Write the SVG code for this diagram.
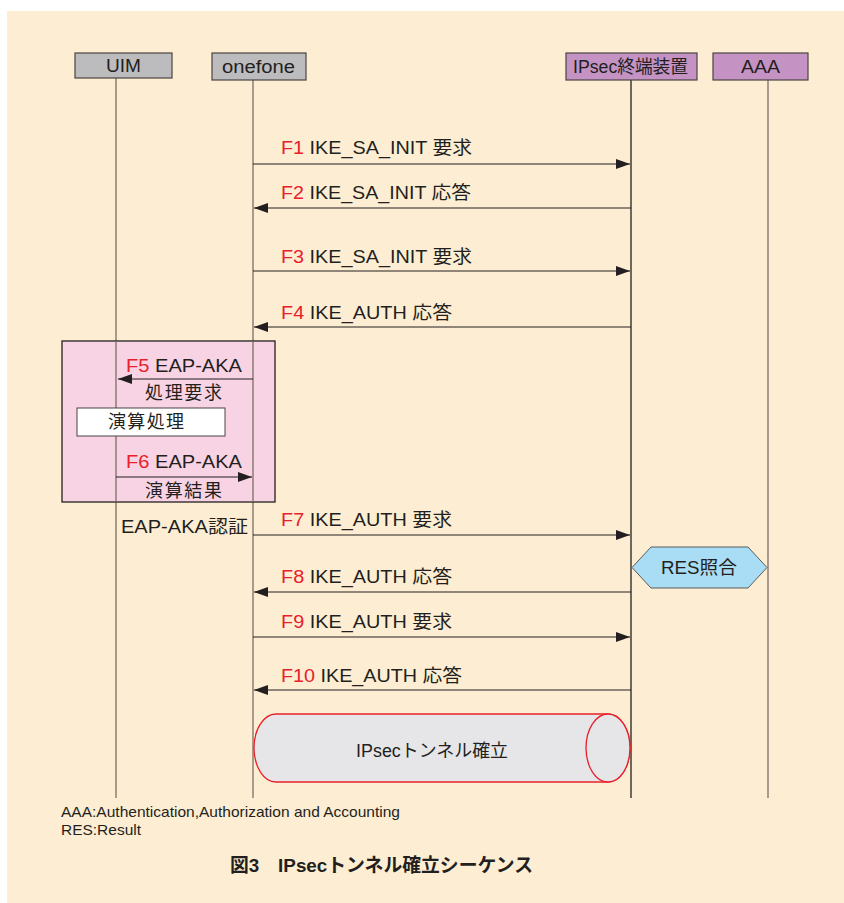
<svg xmlns="http://www.w3.org/2000/svg" width="844" height="903" viewBox="0 0 844 903">
<defs>
<style>
text{font-family:"Liberation Sans","Noto Sans CJK JP",sans-serif;fill:#231f20}
.hd{font-size:18px}
.lb{font-size:18px}
.red{fill:#e8202a}
.life{stroke:#7a6e60;stroke-width:1.3}
.msg{stroke:#231f20;stroke-width:1.2;fill:none}
.ft{font-size:15px}
</style>
<marker id="ah" viewBox="0 0 14 10" refX="14" refY="5" markerWidth="14" markerHeight="10" markerUnits="userSpaceOnUse" orient="auto">
<path d="M0,0 L14,5 L0,10 Z" fill="#231f20"/>
</marker>
</defs>
<rect x="0" y="0" width="844" height="903" fill="#ffffff"/>
<rect x="7" y="11" width="837" height="892" fill="#fdeed3"/>

<g id="lifelines">
<line class="life" x1="116" y1="78" x2="116" y2="798"/>
<line class="life" x1="253" y1="80" x2="253" y2="798"/>
<line x1="631" y1="80" x2="631" y2="798" stroke="#231f20" stroke-width="1.3"/>
<line class="life" x1="768" y1="80" x2="768" y2="798"/>
</g>

<g id="uim">
<rect x="75" y="53" width="97" height="25" fill="#bcbcbf" stroke="#4a4440" stroke-width="1.2"/>
<text class="hd" x="106" y="72" textLength="35" lengthAdjust="spacingAndGlyphs">UIM</text>
</g>
<g id="onefone">
<rect x="212" y="53" width="94" height="27" fill="#bcbcbf" stroke="#4a4440" stroke-width="1.2"/>
<text class="hd" x="222" y="73" textLength="73" lengthAdjust="spacingAndGlyphs">onefone</text>
</g>
<g id="ipsec">
<rect x="566" y="53" width="131" height="27" fill="#c493c4" stroke="#4a4440" stroke-width="1.2"/>
<text class="hd" x="573" y="73" textLength="115" lengthAdjust="spacingAndGlyphs">IPsec終端装置</text>
</g>
<g id="aaa">
<rect x="713" y="53" width="95" height="27" fill="#c493c4" stroke="#4a4440" stroke-width="1.2"/>
<text class="hd" x="741" y="73" textLength="39" lengthAdjust="spacingAndGlyphs">AAA</text>
</g>

<g id="eap-box">
<rect x="62" y="341" width="213" height="161" fill="#f8d3e4" stroke="#231f20" stroke-width="1.3"/>
<line class="life" x1="116" y1="341" x2="116" y2="502"/>
<line class="life" x1="253" y1="341" x2="253" y2="502"/>
</g>
<g id="calc">
<rect x="77" y="408" width="148" height="28" fill="#ffffff" stroke="#4a4440" stroke-width="1"/>
<text class="lb" x="108" y="428" textLength="76" lengthAdjust="spacing">演算処理</text>
</g>

<g id="res">
<polygon points="632,567.5 651,547 748,547 767,567.5 748,588 651,588" fill="#a9ddf5" stroke="#5a5a5a" stroke-width="1"/>
<text class="lb" x="661" y="574" textLength="76" lengthAdjust="spacingAndGlyphs">RES照合</text>
</g>

<g id="tunnel">
<path d="M276,714 L608,714 A22,34 0 0 1 608,782 L276,782 A22,34 0 0 1 276,714 Z" fill="#e6e6e8" stroke="#e8202a" stroke-width="1.3"/>
<ellipse cx="608" cy="748" rx="22" ry="34" fill="#e6e6e8" stroke="#e8202a" stroke-width="1.3"/>
<text x="356" y="757" font-size="18" textLength="152" lengthAdjust="spacingAndGlyphs">IPsecトンネル確立</text>
</g>

<g id="connectors">
<line class="msg" x1="253" y1="164" x2="630" y2="164" marker-end="url(#ah)"/>
<line class="msg" x1="631" y1="208" x2="254" y2="208" marker-end="url(#ah)"/>
<line class="msg" x1="253" y1="271" x2="630" y2="271" marker-end="url(#ah)"/>
<line class="msg" x1="631" y1="327" x2="254" y2="327" marker-end="url(#ah)"/>
<line class="msg" x1="253" y1="379" x2="118" y2="379" marker-end="url(#ah)"/>
<line class="msg" x1="116" y1="477" x2="252" y2="477" marker-end="url(#ah)"/>
<line class="msg" x1="253" y1="535" x2="630" y2="535" marker-end="url(#ah)"/>
<line class="msg" x1="631" y1="592" x2="254" y2="592" marker-end="url(#ah)"/>
<line class="msg" x1="253" y1="637" x2="630" y2="637" marker-end="url(#ah)"/>
<line class="msg" x1="631" y1="690" x2="254" y2="690" marker-end="url(#ah)"/>
</g>

<g id="labels">
<text class="lb" x="281" y="154" textLength="191" lengthAdjust="spacingAndGlyphs"><tspan class="red">F1</tspan> IKE_SA_INIT 要求</text>
<text class="lb" x="281" y="199" textLength="190" lengthAdjust="spacingAndGlyphs"><tspan class="red">F2</tspan> IKE_SA_INIT 応答</text>
<text class="lb" x="281" y="263" textLength="191" lengthAdjust="spacingAndGlyphs"><tspan class="red">F3</tspan> IKE_SA_INIT 要求</text>
<text class="lb" x="281" y="319" textLength="171" lengthAdjust="spacingAndGlyphs"><tspan class="red">F4</tspan> IKE_AUTH 応答</text>
<text class="lb" x="126" y="372" textLength="116" lengthAdjust="spacingAndGlyphs"><tspan class="red">F5</tspan> EAP-AKA</text>
<text class="lb" x="145" y="399" textLength="77" lengthAdjust="spacing">処理要求</text>
<text class="lb" x="126" y="468" textLength="116" lengthAdjust="spacingAndGlyphs"><tspan class="red">F6</tspan> EAP-AKA</text>
<text class="lb" x="145" y="497" textLength="77" lengthAdjust="spacing">演算結果</text>
<text class="lb" x="121" y="533" textLength="127" lengthAdjust="spacingAndGlyphs">EAP-AKA認証</text>
<text class="lb" x="281" y="526" textLength="171" lengthAdjust="spacingAndGlyphs"><tspan class="red">F7</tspan> IKE_AUTH 要求</text>
<text class="lb" x="281" y="583" textLength="171" lengthAdjust="spacingAndGlyphs"><tspan class="red">F8</tspan> IKE_AUTH 応答</text>
<text class="lb" x="281" y="628" textLength="171" lengthAdjust="spacingAndGlyphs"><tspan class="red">F9</tspan> IKE_AUTH 要求</text>
<text class="lb" x="281" y="682" textLength="181" lengthAdjust="spacingAndGlyphs"><tspan class="red">F10</tspan> IKE_AUTH 応答</text>
</g>

<g id="footer">
<text class="ft" x="61" y="817" textLength="339" lengthAdjust="spacingAndGlyphs">AAA:Authentication,Authorization and Accounting</text>
<text class="ft" x="61" y="835" textLength="80" lengthAdjust="spacingAndGlyphs">RES:Result</text>
<text x="230" y="872" font-size="19" font-weight="bold" textLength="303" lengthAdjust="spacingAndGlyphs">図3　IPsecトンネル確立シーケンス</text>
</g>
</svg>
